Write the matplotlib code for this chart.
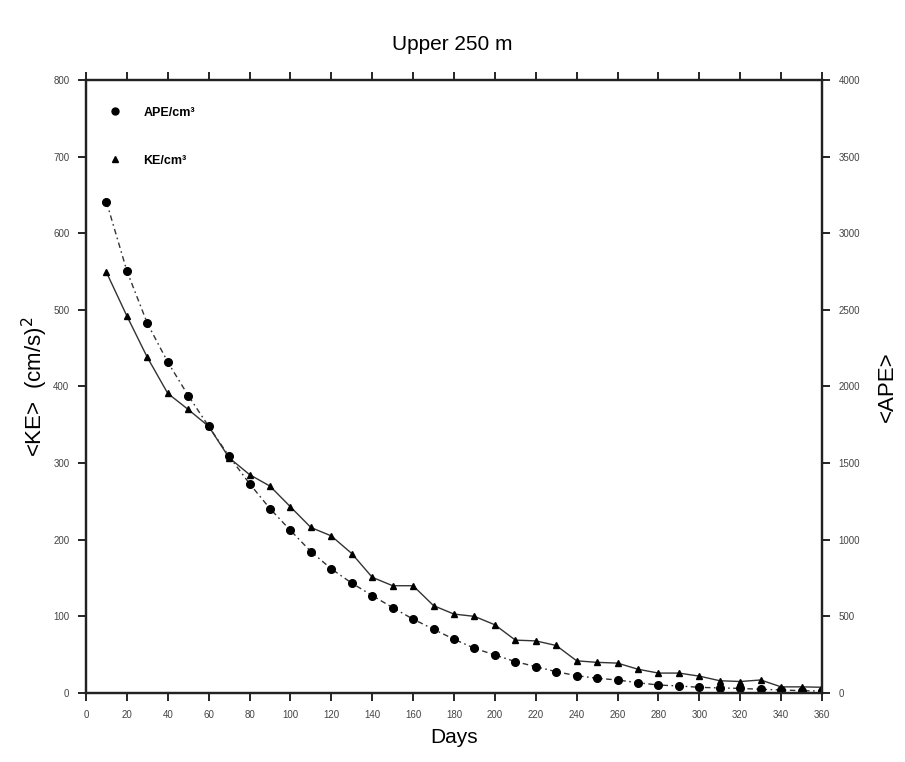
import matplotlib
matplotlib.use("Agg")
import matplotlib.pyplot as plt
from matplotlib.lines import Line2D

plt.rcParams['font.family'] = ['Liberation Sans', 'DejaVu Sans']

days = [10, 20, 30, 40, 50, 60, 70, 80, 90, 100, 110, 120, 130, 140, 150, 160, 170, 180,
        190, 200, 210, 220, 230, 240, 250, 260, 270, 280, 290, 300, 310, 320, 330, 340, 350, 360]
ke = [549, 492, 438, 391, 370, 348, 307, 285, 270, 243, 216, 205, 182, 151, 140, 140, 114, 103,
      100, 89, 69, 68, 62, 42, 40, 39, 31, 26, 26, 22, 16, 15, 17, 8, 8, 7.5]
ape = [3205, 2754, 2412, 2159, 1941, 1740, 1544, 1366, 1203, 1061, 923, 810, 717, 636, 557, 482,
       416, 351, 292, 248, 205, 172, 139, 113, 96, 85, 67, 52, 46, 37, 33, 30, 24, 20, 15, 13]
xticks = list(range(0, 361, 20))
ke_ticks = list(range(0, 801, 100))
ape_ticks = list(range(0, 4001, 500))

fig = plt.figure(figsize=(9.05, 7.62), dpi=100)
ax = fig.add_axes([86/905, 69/762, 736/905, 613/762])
ax2 = ax.twinx()

lc = '#333333'
ax.plot(days, ke, '-', color=lc, lw=1.0, marker='^', ms=4.5, mfc='black', mec='black')
ax2.plot(days, ape, color=lc, lw=1.0, linestyle=(0, (4, 2.5, 1.2, 2.5)), marker='o', ms=5.5,
         mfc='black', mec='black')

ax.set_xlim(0, 360)
ax.set_ylim(0, 800)
ax2.set_ylim(0, 4000)
ax.set_xticks(xticks)
ax.set_yticks(ke_ticks)
ax2.set_yticks(ape_ticks)

tc = '#444444'
ax.tick_params(axis='x', direction='out', length=6, width=1.2, labelsize=7, top=True, pad=6, labelcolor=tc)
ax.tick_params(axis='y', direction='out', length=6, width=1.2, labelsize=7, pad=6, labelcolor=tc)
ax2.tick_params(axis='y', direction='out', length=6, width=1.2, labelsize=7, pad=6, labelcolor=tc)

for a in (ax, ax2):
    for s in a.spines.values():
        s.set_linewidth(1.6)
        s.set_color('#222222')

ax.set_xlabel('Days', fontsize=15, labelpad=6)
ax.set_ylabel(r'<KE>  (cm/s)$^2$', fontsize=16, labelpad=2)
ax2.set_ylabel('<APE>', fontsize=16, labelpad=12, rotation=90)
fig.text(0.5, 0.941, 'Upper 250 m', fontsize=15, ha='center', va='center')

handles = [Line2D([], [], ls='none', marker='o', ms=5, color='black'),
           Line2D([], [], ls='none', marker='^', ms=4, color='black')]
ax.legend(handles, ['APE/cm³', 'KE/cm³'], loc='upper left', bbox_to_anchor=(0.015, 0.975),
          frameon=False, prop={'weight': 'bold', 'size': 9}, labelspacing=2.9,
          handlelength=1.0, handletextpad=1.8)

fig.savefig('out.png', dpi=100)
